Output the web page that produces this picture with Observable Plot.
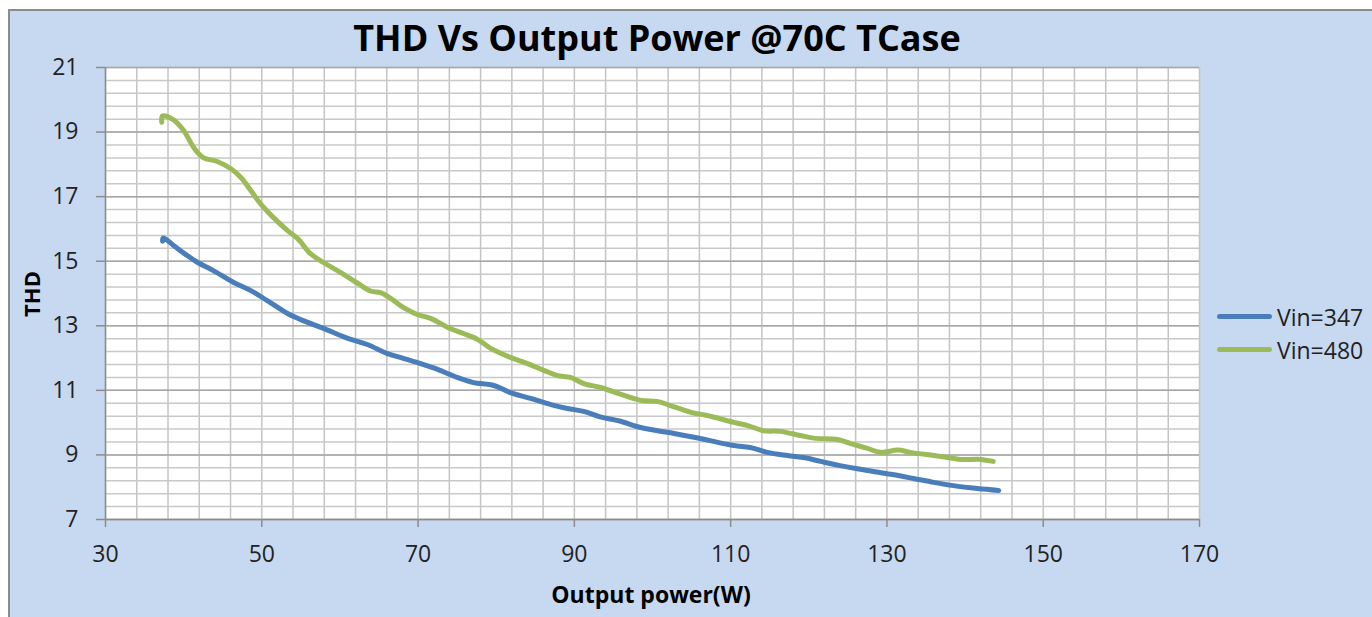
<!DOCTYPE html>
<html>
<head>
<meta charset="utf-8">
<script src="https://cdn.jsdelivr.net/npm/d3@7"></script>
<script src="https://cdn.jsdelivr.net/npm/@observablehq/plot@0.6"></script>
<style>
  html, body { margin: 0; padding: 0; background: #ffffff; overflow: hidden; }
  #wrap { position: relative; width: 1372px; height: 617px; font-family: "Open Sans", sans-serif; }
  #bg { position: absolute; left: 8px; top: 9px; width: 1380px; height: 620px; background: #c6d9f0; border-left: 2px solid #8c8c8c; border-top: 2px solid #8c8c8c; box-sizing: border-box; }
  #chart { position: absolute; left: 0; top: 0; }
  .title { position: absolute; left: 0; width: 1314px; top: 20px; text-align: center; font-weight: 700; font-size: 36px; color: #000; line-height: 1; }
  .xlabel { position: absolute; left: 0; width: 1302px; top: 583px; text-align: center; font-weight: 700; font-size: 23px; color: #000; line-height: 1; }
  .ylabel { position: absolute; left: 31px; top: 294px; transform: translate(-50%, -50%) rotate(-90deg); font-weight: 700; font-size: 22px; color: #000; line-height: 1; white-space: nowrap; }
  .legend { position: absolute; left: 1217px; top: 300px; font-size: 23px; color: #222; }
  .legend .item { display: flex; align-items: center; height: 33px; }
  .legend .sw { width: 55px; height: 5px; border-radius: 3px; margin-right: 5px; }
</style>
</head>
<body>
<div id="wrap">
  <div id="bg"></div>
  <div id="chart"></div>
  <div class="title">THD Vs Output Power @70C TCase</div>
  <div class="xlabel">Output power(W)</div>
  <div class="ylabel">THD</div>
  <div class="legend" id="legend"></div>
</div>
<script>
// Data
const seriesNames = ["Vin=347", "Vin=480"];
const seriesColors = ["#4a7ebb", "#9bbb59"];

const vin347X = [37.3, 37.4, 38.7, 40.2, 41.8, 43.8, 46.4, 48.6, 50.7, 53.3, 55.3, 57.9, 61.0, 63.5, 66.1, 68.1, 70.3, 72.5, 75.0, 77.1, 79.7, 81.8, 84.4, 87.0, 89.1, 91.2, 93.3, 95.8, 98.5, 101.9, 106.1, 110.4, 112.5, 114.7, 117.3, 119.5, 121.5, 124.0, 127.5, 130.5, 133.4, 136.0, 138.5, 141.6, 144.3];
const vin347Y = [15.62, 15.72, 15.49, 15.22, 14.96, 14.71, 14.34, 14.09, 13.78, 13.38, 13.16, 12.92, 12.61, 12.42, 12.14, 11.99, 11.83, 11.65, 11.40, 11.24, 11.15, 10.93, 10.75, 10.56, 10.44, 10.35, 10.18, 10.05, 9.85, 9.70, 9.51, 9.29, 9.23, 9.08, 8.98, 8.91, 8.80, 8.67, 8.52, 8.40, 8.27, 8.15, 8.05, 7.96, 7.90];

const vin480X = [37.2, 37.3, 38.7, 40.0, 41.3, 42.5, 44.3, 46.0, 47.3, 48.6, 49.8, 51.5, 53.3, 54.6, 56.2, 57.9, 60.1, 62.3, 64.0, 65.2, 66.5, 68.1, 69.9, 71.6, 73.8, 75.8, 77.6, 79.3, 81.8, 84.0, 86.1, 87.8, 89.5, 91.2, 93.5, 95.9, 98.5, 100.6, 102.3, 104.9, 107.0, 110.4, 112.2, 114.2, 116.4, 118.9, 120.6, 123.7, 125.3, 127.5, 129.2, 131.4, 133.0, 136.0, 137.8, 139.4, 142.0, 143.6];
const vin480Y = [19.30, 19.50, 19.38, 19.05, 18.52, 18.21, 18.09, 17.87, 17.60, 17.19, 16.79, 16.35, 15.95, 15.70, 15.24, 14.96, 14.65, 14.31, 14.07, 14.03, 13.85, 13.57, 13.35, 13.23, 12.95, 12.76, 12.58, 12.30, 12.02, 11.83, 11.62, 11.46, 11.40, 11.21, 11.08, 10.88, 10.69, 10.66, 10.53, 10.32, 10.22, 10.01, 9.91, 9.75, 9.73, 9.60, 9.52, 9.48, 9.36, 9.20, 9.08, 9.15, 9.08, 8.98, 8.92, 8.86, 8.86, 8.80];

const xTicks = [30, 50, 70, 90, 110, 130, 150, 170];
const yTicks = [7, 9, 11, 13, 15, 17, 19, 21];
const xDomain = [30, 170];
const yDomain = [7, 21];

const data347 = vin347X.map((x, i) => ({x, y: vin347Y[i], s: seriesNames[0]}));
const data480 = vin480X.map((x, i) => ({x, y: vin480Y[i], s: seriesNames[1]}));

const gridXv = d3.range(0, 36).map(i => 30 + i * 4);
const gridYminor = d3.range(0, 36).map(i => +(7 + i * 0.4).toFixed(2));

const chart = Plot.plot({
  width: 1372,
  height: 617,
  marginLeft: 105,
  marginRight: 173,
  marginTop: 67,
  marginBottom: 98,
  style: { background: "transparent", fontFamily: "Open Sans, sans-serif", fontSize: "23px", color: "#222", overflow: "visible" },
  x: { domain: xDomain },
  y: { domain: yDomain },
  marks: [
    Plot.frame({ fill: "white", stroke: null }),
    Plot.ruleX(gridXv, { stroke: "#c4c4c4", strokeWidth: 1.5 }),
    Plot.ruleY(gridYminor, { stroke: "#c8c8c8", strokeWidth: 1.5 }),
    Plot.ruleY(yTicks, { stroke: "#a6a6a6", strokeWidth: 1.5 }),
    Plot.ruleX([xDomain[0]], { stroke: "#8c8c8c", strokeWidth: 1.5 }),
    Plot.ruleY([yDomain[0]], { stroke: "#8c8c8c", strokeWidth: 1.5 }),
    Plot.axisY({ ticks: yTicks, tickSize: 9, tickPadding: 18, stroke: "#8c8c8c", strokeWidth: 1.5, fontSize: 23, fill: "#222", label: null }),
    Plot.axisX({ ticks: xTicks, tickSize: 8, tickPadding: 18, stroke: "#8c8c8c", strokeWidth: 1.5, fontSize: 23, fill: "#222", label: null }),
    Plot.line(data347, { x: "x", y: "y", stroke: seriesColors[0], strokeWidth: 5, curve: "catmull-rom", strokeLinecap: "round", strokeLinejoin: "round" }),
    Plot.line(data480, { x: "x", y: "y", stroke: seriesColors[1], strokeWidth: 5, curve: "catmull-rom", strokeLinecap: "round", strokeLinejoin: "round" })
  ]
});
document.getElementById("chart").appendChild(chart);

const legend = document.getElementById("legend");
seriesNames.forEach((name, i) => {
  const item = document.createElement("div");
  item.className = "item";
  const sw = document.createElement("div");
  sw.className = "sw";
  sw.style.background = seriesColors[i];
  const label = document.createElement("span");
  label.textContent = name;
  item.appendChild(sw);
  item.appendChild(label);
  legend.appendChild(item);
});
</script>
</body>
</html>
